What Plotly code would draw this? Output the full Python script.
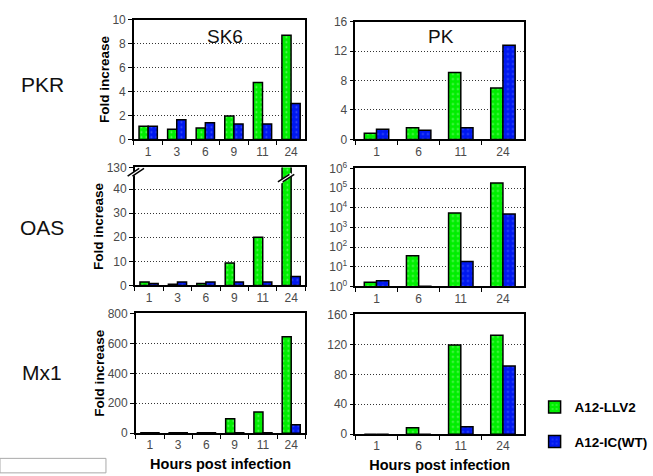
import plotly.graph_objects as go

# ---------------- data ----------------
sk6_hours = ["1", "3", "6", "9", "11", "24"]
pk_hours = ["1", "6", "11", "24"]

pkr_sk6_llv2 = [1.1, 0.85, 0.95, 1.95, 4.75, 8.7]
pkr_sk6_wt = [1.1, 1.65, 1.4, 1.3, 1.3, 3.0]
pkr_pk_llv2 = [0.85, 1.6, 9.1, 7.0]
pkr_pk_wt = [1.4, 1.25, 1.6, 12.8]

oas_sk6_llv2 = [1.4, 0.5, 0.8, 9.3, 20, 130]
oas_sk6_wt = [0.8, 1.4, 1.4, 1.4, 1.4, 3.7]
oas_pk_llv2 = [1.6, 36, 5400, 180000]
oas_pk_wt = [1.9, 1, 18.5, 4800]

mx1_sk6_llv2 = [4, 4, 4, 96, 141, 645]
mx1_sk6_wt = [3, 3, 3, 4, 4, 56]
mx1_pk_llv2 = [0, 8.6, 119, 132]
mx1_pk_wt = [0, 0, 10, 91]

series_names = ["A12-LLV2", "A12-IC(WT)"]
row_labels = ["PKR", "OAS", "Mx1"]
col_titles = ["SK6", "PK"]

W, H = 653, 476
GREEN = "#00ee00"
BLUE = "#0018f0"
FONT = "Liberation Sans, Arial, sans-serif"

def px_x(p):
    return p / W

def px_y(p):
    return 1 - p / H

fig = go.Figure()

panels = [
    # (axis suffix, x categories, llv2, wt, x dom px, y dom px, bar width)
    ("", sk6_hours, pkr_sk6_llv2, pkr_sk6_wt, (139, 317), (11, 135), 0.32),
    ("2", pk_hours, pkr_pk_llv2, pkr_pk_wt, (369, 544), (13, 135), 0.29),
    ("3", sk6_hours, oas_sk6_llv2, oas_sk6_wt, (140, 317), (164, 286), 0.32),
    ("4", pk_hours, oas_pk_llv2, oas_pk_wt, (369, 544), (165, 287), 0.29),
    ("5", sk6_hours, mx1_sk6_llv2, mx1_sk6_wt, (141, 317), (315, 439), 0.32),
    ("6", pk_hours, mx1_pk_llv2, mx1_pk_wt, (369, 544), (316, 440), 0.29),
]

for i, (sfx, cats, g, b, xd, yd, bw) in enumerate(panels):
    xa = "x" + sfx
    ya = "y" + sfx
    for k, (name, vals, col) in enumerate(((series_names[0], g, GREEN), (series_names[1], b, BLUE))):
        fig.add_trace(go.Bar(
            x=cats, y=vals, name=name, xaxis=xa, yaxis=ya,
            width=bw, offset=(-bw if k == 0 else 0),
            marker=dict(color=col, line=dict(color="black", width=1.5),
                        pattern=dict(shape=".", fgcolor="#d8ffd8" if col == GREEN else "#8090ff",
                                     size=5, solidity=0.12, fillmode="overlay")),
            showlegend=(i == 0), legendgroup=name,
        ))

axis_common = dict(showline=True, linecolor="black", linewidth=1.5, mirror=True,
                   ticks="outside", ticklen=4, tickcolor="black",
                   tickfont=dict(family=FONT, size=12, color="#4a4a4a"))

layout = dict(
    width=W, height=H, margin=dict(l=0, r=0, t=0, b=0),
    paper_bgcolor="white", plot_bgcolor="white",
    barmode="group",
    font=dict(family=FONT, color="black"),
)

yspecs = {
    "": dict(range=[0, 10], tickvals=[0, 2, 4, 6, 8, 10]),
    "2": dict(range=[0, 16], tickvals=[0, 4, 8, 12, 16]),
    "3": dict(range=[0, 49], tickvals=[0, 10, 20, 30, 40, 49],
              ticktext=["0", "10", "20", "30", "40", "130"]),
    "4": dict(type="log", range=[0, 6], tickvals=[1, 10, 100, 1e3, 1e4, 1e5, 1e6],
              ticktext=["10<sup>%d</sup>" % k for k in range(7)]),
    "5": dict(range=[0, 800], tickvals=[0, 200, 400, 600, 800]),
    "6": dict(range=[0, 160], tickvals=[0, 40, 80, 120, 160]),
}

for sfx, cats, g, b, xd, yd, bw in panels:
    xkey = "xaxis" + sfx
    ykey = "yaxis" + sfx
    xa = dict(axis_common, domain=[px_x(xd[0]), px_x(xd[1])], anchor="y" + sfx,
              type="category", tickson="boundaries", showgrid=False, zeroline=False)
    ya = dict(axis_common, domain=[px_y(yd[1]), px_y(yd[0])], anchor="x" + sfx,
              showgrid=True, gridcolor="#333333", griddash="1px,2px", gridwidth=1,
              zeroline=False)
    ya.update(yspecs[sfx])
    if sfx in ("", "3", "5"):
        ya["title"] = dict(text="<b>Fold increase</b>", font=dict(family=FONT, size=13.5),
                           standoff=0)
    if sfx in ("5", "6"):
        xa["title"] = dict(text="<b>Hours post infection</b>",
                           font=dict(family=FONT, size=14.5), standoff=7)
    layout[xkey] = xa
    layout[ykey] = ya

fig.update_layout(**layout)

# row labels
for lab, yc in zip(row_labels, [78, 226, 376]):
    fig.add_annotation(x=px_x(44), y=px_y(yc), xref="paper", yref="paper",
                       xanchor="center", yanchor="middle",
                       text=lab, showarrow=False, font=dict(family=FONT, size=21, color="#111111"))
# column titles inside panels
for t, xc in zip(col_titles, [234, 458]):
    fig.add_annotation(x=px_x(xc), y=px_y(28), xref="paper", yref="paper",
                       xanchor="center", yanchor="middle",
                       text=t, showarrow=False, font=dict(family=FONT, size=19, color="#111111"))

# axis-break marks on OAS SK6 panel
def brk(cx, cy):
    fig.add_shape(type="line", xref="paper", yref="paper",
                  x0=px_x(cx - 6), y0=px_y(cy + 4), x1=px_x(cx + 6), y1=px_y(cy - 4),
                  line=dict(color="white", width=3.5))
    for dx in (-2.5, 2.5):
        fig.add_shape(type="line", xref="paper", yref="paper",
                      x0=px_x(cx - 6 + dx), y0=px_y(cy + 4), x1=px_x(cx + 6 + dx), y1=px_y(cy - 4),
                      line=dict(color="black", width=1.5))
brk(141, 169)
brk(297, 175)

# stray frame at lower-left
fig.add_shape(type="rect", xref="paper", yref="paper",
              x0=px_x(0), y0=px_y(480), x1=px_x(110), y1=px_y(465),
              line=dict(color="#aaaaaa", width=1), fillcolor="rgba(0,0,0,0)")

fig.update_layout(legend=dict(x=px_x(555), y=px_y(396), xanchor="left", yanchor="top",
                              font=dict(family=FONT, size=13.5, color="black", weight="bold"),
                              tracegroupgap=14, itemwidth=30, bgcolor="rgba(0,0,0,0)"))

fig.write_html("out.html")
